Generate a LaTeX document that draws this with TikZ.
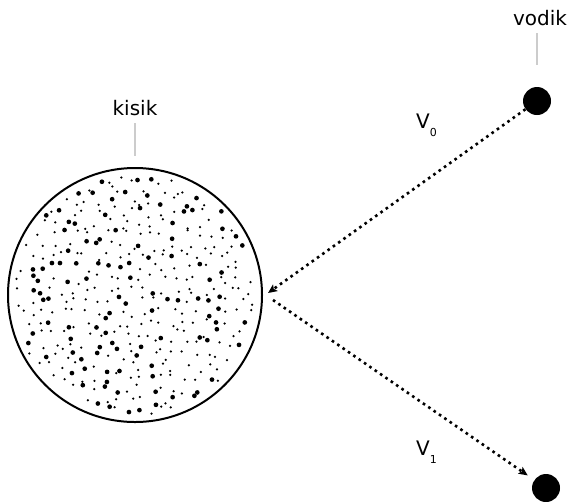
\documentclass[tikz,border=0pt]{standalone}
\usepackage{fontspec}
\setmainfont{DejaVu Sans}
\usetikzlibrary{arrows.meta}
\begin{document}
\begin{tikzpicture}[x=1pt,y=-1pt,
  lbl/.style={font=\fontsize{20}{20}\selectfont, inner sep=0pt},
  vlbl/.style={font=\fontsize{20}{20}\selectfont, inner sep=0pt},
  leader/.style={draw=black!20, line width=1.2pt},
  ball/.style={circle, fill=black, inner sep=0pt, minimum size=28pt},
  gasbox/.style={circle, draw=black, line width=2pt, inner sep=0pt, minimum size=254pt},
  dotarrow/.style={line width=2.6pt, dash pattern=on 2.6pt off 3.9pt, -{Stealth[length=9pt,width=8pt,inset=2pt]}}
]
\useasboundingbox (0,0) rectangle (569,501);
% gas cloud
\node[gasbox] (gas) at (135,295) {};
\begin{scope}
\pgfmathsetseed{11}
\foreach \gx in {-126,-115,...,126}{
  \foreach \gy in {-126,-115,...,126}{
    \pgfmathsetmacro\px{\gx+10*(rnd-0.5)}
    \pgfmathsetmacro\py{\gy+10*(rnd-0.5)}
    \pgfmathsetmacro\rad{rnd<0.27 ? 2.35 : 1.25}
    \pgfmathparse{((\px/10)*(\px/10)+(\py/10)*(\py/10)) < 146.4 ? 1 : 0}
    \ifdim\pgfmathresult pt>0.5pt
      \fill (gas.center) ++(\px,\py) circle (\rad pt);
    \fi
  }
}
\end{scope}
% labels
\node[lbl] (kisik) at (135,108) {kisik};
\draw[leader] (135,123) coordinate (k1) -- (135,156) coordinate (k2);
\node[lbl] (vodik) at (540,18) {vodik};
\draw[leader] (537,33) coordinate (v1) -- (537,65) coordinate (v2);
% balls
\node[ball] (b0) at (537,101) {};
\node[ball] (b1) at (546,488) {};
% arrows
\coordinate (hit) at (268,293);
\coordinate (out) at (273,300);
\draw[dotarrow] (b0) -- (hit);
\draw[dotarrow, shorten >=8pt] (out) -- (b1);
% velocity labels
\node[vlbl, anchor=base west] (v0) at (416,128) {V\raisebox{-8pt}{\fontsize{11}{11}\selectfont 0}};
\node[vlbl, anchor=base west] (v1l) at (416,455) {V\raisebox{-8pt}{\fontsize{11}{11}\selectfont 1}};
\end{tikzpicture}
\end{document}
